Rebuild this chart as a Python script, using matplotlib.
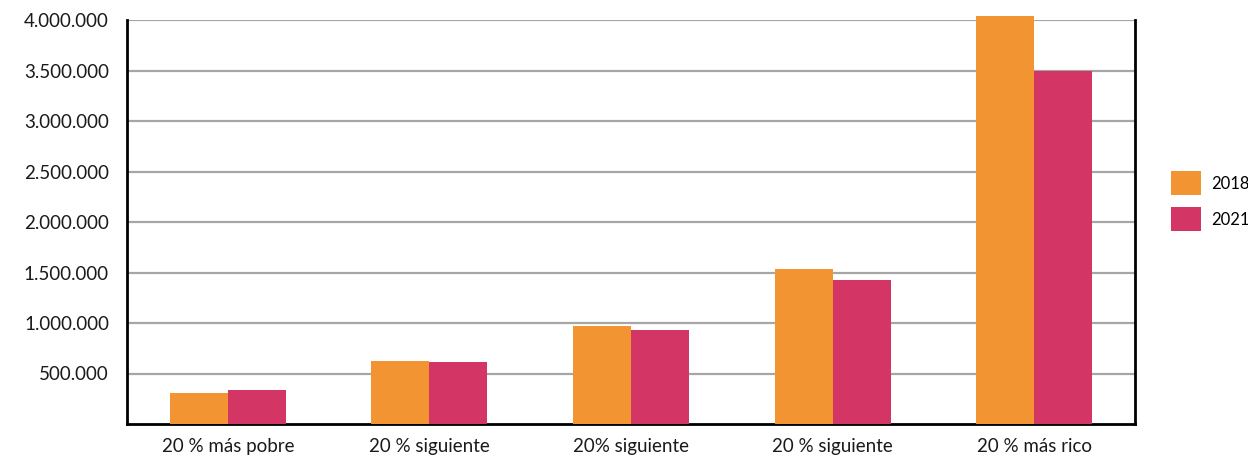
import numpy as np
import matplotlib.pyplot as plt
from matplotlib.ticker import FuncFormatter

categorias = ['20 % más pobre', '20 % siguiente', '20% siguiente', '20 % siguiente', '20 % más rico']
v2018 = [307000, 621000, 970000, 1535000, 4040000]
v2021 = [337000, 614000, 931000, 1426000, 3495000]
yticks = [500000, 1000000, 1500000, 2000000, 2500000, 3000000, 3500000, 4000000]

plt.rcParams['font.family'] = ['Lato', 'DejaVu Sans']

fig = plt.figure(figsize=(12.48, 4.55), dpi=100)
ax = fig.add_axes([127 / 1248, 31 / 455, 1008 / 1248, 404 / 455])

x = np.arange(len(categorias))
w = 0.288
b1 = ax.bar(x - w / 2, v2018, w, color='#F39433', label='2018', clip_on=False, zorder=3)
b2 = ax.bar(x + w / 2, v2021, w, color='#D33665', label='2021', clip_on=False, zorder=3)

ax.set_xlim(-0.5, len(categorias) - 0.5)
ax.set_ylim(0, 4000000)
ax.set_yticks(yticks)
ax.yaxis.set_major_formatter(FuncFormatter(lambda v, p: f'{int(v):,}'.replace(',', '.')))
ax.set_xticks(x)
ax.set_xticklabels(categorias)
ax.tick_params(axis='both', length=0, labelsize=13.5, colors='#1a1a1a')
ax.tick_params(axis='y', pad=13)
ax.tick_params(axis='x', pad=10)
ax.grid(axis='y', color='#a6a6a6', linewidth=1.6, zorder=0)
ax.set_axisbelow(True)

ax.spines['top'].set_visible(False)
for s in ['left', 'bottom', 'right']:
    ax.spines[s].set_linewidth(2)
    ax.spines[s].set_color('black')

fig.legend(handles=[b1, b2], loc='upper left', bbox_to_anchor=(1158 / 1248, 1 - 158 / 455),
           frameon=False, fontsize=12, handlelength=1.8, handleheight=1.85,
           handletextpad=0.6, labelspacing=0.7, borderpad=0.3)

fig.savefig('out.png', dpi=100)
